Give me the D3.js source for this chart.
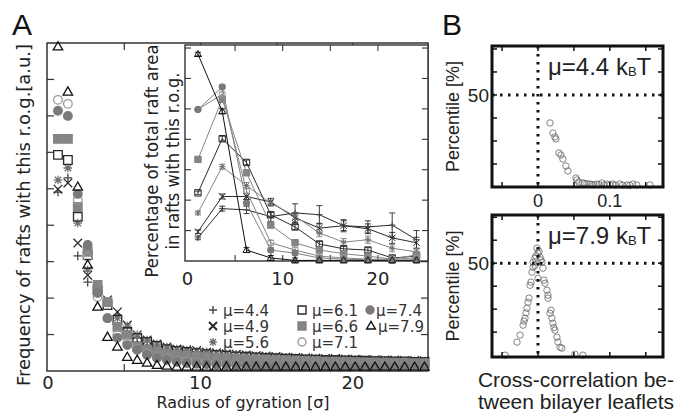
<!DOCTYPE html>
<html>
<head>
<meta charset="utf-8">
<script src="https://cdn.jsdelivr.net/npm/d3@7"></script>
<style>
  body { margin: 0; background: #fff; }
  svg { display: block; }
  .dv { font-family: "DejaVu Sans", sans-serif; }
  .ar { font-family: "Liberation Sans", Arial, sans-serif; }
</style>
</head>
<body>
<div id="chart"></div>
<script>
// Raft size distributions (panel A) and leaflet cross-correlation (panel B)

const WIDTH = 680;
const HEIGHT = 413;

// --- data ---
const series = ['4.4', '4.9', '5.6', '6.1', '6.6', '7.1', '7.4', '7.9'];
const markers = ['plus', 'cross', 'star', 'square', 'squareFill', 'circle', 'circleFill', 'triangle'];

// main plot: radius of gyration bins (38 bins)
const rogBins = [0.65, 1.3, 1.95, 2.6, 3.25, 3.9, 4.55, 5.2, 5.85, 6.5, 7.15, 7.8, 8.45,
  9.1, 9.75, 10.4, 11.05, 11.7, 12.35, 13.0, 13.65, 14.3, 14.95, 15.6, 16.25, 16.9, 17.55,
  18.2, 18.85, 19.5, 20.15, 20.8, 21.45, 22.1, 22.75, 23.4, 24.05, 24.7];

const freq44 = [0.491, 0.530, 0.316, 0.244, 0.217, 0.187, 0.154, 0.118, 0.091, 0.071, 0.063, 0.058, 0.052,
  0.050, 0.048, 0.052, 0.046, 0.044, 0.045, 0.041, 0.040, 0.038, 0.037, 0.036, 0.035, 0.034, 0.033,
  0.032, 0.031, 0.031, 0.030, 0.029, 0.028, 0.028, 0.027, 0.026, 0.026, 0.025];
const freq49 = [0.499, 0.516, 0.351, 0.263, 0.231, 0.195, 0.162, 0.126, 0.099, 0.085, 0.074, 0.066, 0.060,
  0.058, 0.056, 0.052, 0.050, 0.047, 0.046, 0.044, 0.042, 0.041, 0.040, 0.038, 0.037, 0.036, 0.035,
  0.034, 0.034, 0.033, 0.032, 0.031, 0.031, 0.030, 0.030, 0.029, 0.029, 0.028];
const freq56 = [0.524, 0.557, 0.406, 0.277, 0.214, 0.189, 0.145, 0.123, 0.099, 0.085, 0.074, 0.066, 0.060,
  0.057, 0.054, 0.051, 0.048, 0.046, 0.044, 0.043, 0.041, 0.040, 0.038, 0.037, 0.036, 0.035, 0.034,
  0.033, 0.032, 0.032, 0.031, 0.030, 0.030, 0.029, 0.029, 0.028, 0.028, 0.027];
const freq61 = [0.593, 0.579, 0.423, 0.318, 0.222, 0.181, 0.140, 0.107, 0.091, 0.080, 0.069, 0.060, 0.055,
  0.052, 0.049, 0.046, 0.044, 0.042, 0.040, 0.039, 0.037, 0.036, 0.035, 0.034, 0.033, 0.032, 0.031,
  0.030, 0.030, 0.029, 0.028, 0.028, 0.027, 0.027, 0.026, 0.026, 0.025, 0.025];
const freq66 = [0.637, 0.637, 0.450, 0.327, 0.236, 0.189, 0.121, 0.099, 0.066, 0.058, 0.052, 0.047, 0.044,
  0.042, 0.040, 0.038, 0.036, 0.035, 0.033, 0.032, 0.031, 0.030, 0.029, 0.028, 0.027, 0.026, 0.026,
  0.025, 0.025, 0.024, 0.024, 0.023, 0.023, 0.022, 0.022, 0.022, 0.021, 0.021];
const freq71 = [0.744, 0.733, 0.469, 0.313, 0.203, 0.145, 0.099, 0.077, 0.060, 0.047, 0.038, 0.033, 0.027,
  0.024, 0.022, 0.020, 0.019, 0.018, 0.017, 0.016, 0.015, 0.015, 0.014, 0.014, 0.014, 0.013, 0.013,
  0.013, 0.013, 0.013, 0.013, 0.013, 0.013, 0.013, 0.013, 0.013, 0.013, 0.013];
const freq74 = [0.714, 0.700, 0.486, 0.346, 0.214, 0.145, 0.091, 0.071, 0.058, 0.044, 0.036, 0.030, 0.025,
  0.022, 0.020, 0.019, 0.018, 0.017, 0.016, 0.015, 0.015, 0.014, 0.014, 0.013, 0.013, 0.013, 0.012,
  0.012, 0.012, 0.012, 0.012, 0.012, 0.012, 0.012, 0.012, 0.012, 0.012, 0.012];
const freq79 = [0.89, 0.766, 0.505, 0.291, 0.176, 0.093, 0.066, 0.038, 0.030, 0.022, 0.016, 0.014, 0.011,
  0.011, 0.011, 0.011, 0.011, 0.011, 0.011, 0.011, 0.011, 0.011, 0.011, 0.011, 0.011, 0.011, 0.011,
  0.011, 0.011, 0.011, 0.011, 0.011, 0.011, 0.011, 0.011, 0.011, 0.011, 0.011];

// inset: percentage of total raft area
const insetBins = [1.1, 3.65, 6.2, 8.75, 11.3, 13.85, 16.4, 18.95, 21.5, 24.05];
const area44 = [3.8, 8.6, 8.4, 7.3, 7.9, 7.6, 5.8, 5.6, 5.9, 3.5];
const area49 = [4.8, 10.6, 10.6, 9.7, 7.1, 5.4, 5.8, 5.3, 3.8, 3.0];
const area56 = [7.9, 15.5, 12.4, 9.5, 7.4, 4.6, 3.1, 3.5, 2.1, 1.5];
const area61 = [11.2, 20.1, 16.2, 7.6, 5.6, 2.8, 2.0, 1.8, 0.5, 0.8];
const area66 = [16.7, 26.6, 14.5, 5.9, 3.0, 1.8, 1.2, 0.8, 0.3, 1.0];
const area71 = [24.9, 27.4, 11.5, 3.0, 1.8, 0.8, 0.5, 0.3, 0.3, 0.5];
const area74 = [24.9, 28.6, 9.5, 1.8, 1.3, 0.5, 0.3, 0.2, 0.1, 0.2];
const area79 = [34.0, 24.6, 1.8, 0.5, 0.1, 0.1, 0.1, 0.1, 0.1, 0.1];
const err44 = [0.3, 0.4, 0.6, 0.8, 1.5, 1.5, 1.0, 1.0, 2.0, 1.5];
const err49 = [0.3, 0.4, 0.5, 0.6, 0.8, 0.8, 0.8, 0.8, 0.9, 0.9];
const err56 = [0.3, 0.4, 0.5, 0.5, 0.6, 0.6, 0.6, 0.6, 0.6, 0.6];
const errSmall = [0.3, 0.4, 0.4, 0.4, 0.4, 0.4, 0.4, 0.4, 0.4, 0.4];

// panel B: cross-correlation vs percentile
const ccTop = [0.0167, 0.0208, 0.0236, 0.025, 0.0292, 0.0319, 0.0347, 0.0389, 0.0417, 0.0528, 0.0542, 0.0569,
  0.0625, 0.065, 0.068, 0.072, 0.075, 0.078, 0.082, 0.085, 0.089, 0.092, 0.096, 0.100, 0.104, 0.108, 0.114,
  0.118, 0.124, 0.128, 0.132, 0.1375, 0.156];
const pctTop = [34.8, 29.3, 27.2, 26.1, 18.5, 17.4, 15.2, 11.4, 8.7, 4.9, 3.8, 2.7,
  2.2, 1.9, 1.8, 1.6, 1.4, 1.2, 1.6, 1.3, 2.2, 1.1, 1.6, 1.2, 1.6, 1.0, 1.6,
  1.0, 1.1, 0.9, 1.6, 1.1, 1.1];
const ccBot = [-0.0014, 0.0, 0.0028, -0.0042, -0.0069, 0.0056, -0.0042, 0.0069, -0.0069, -0.0083, 0.0, 0.0083,
  0.0097, -0.0097, -0.0111, 0.0125, 0.0139, 0.0139, -0.0125, -0.0139, -0.0153, 0.0167, 0.0194, -0.0181,
  -0.0208, 0.0208, 0.0236, -0.025, 0.0264, 0.0278, -0.0292, 0.0306, 0.0333, -0.0458, 0.0514, 0.0625,
  0.0014, 0.0042, -0.0028, 0.0181, -0.0167, 0.0222, -0.0194];
const pctBot = [58.2, 55.4, 53.3, 52.7, 50.5, 50.5, 48.9, 47.3, 47.8, 45.1, 41.8, 40.8,
  39.1, 39.7, 38.0, 35.3, 32.6, 31.0, 31.0, 28.8, 25.5, 22.8, 20.1, 20.1,
  16.3, 17.4, 13.6, 10.9, 9.8, 7.1, 7.1, 4.3, 3.8, 0.0, 0.5, 0.0,
  56.5, 51.8, 54.0, 24.5, 23.0, 15.0, 18.5];

const freqBySeries = [freq44, freq49, freq56, freq61, freq66, freq71, freq74, freq79];
const areaBySeries = [area44, area49, area56, area61, area66, area71, area74, area79];
const errBySeries = [err44, err49, err56, errSmall, errSmall, errSmall, errSmall, errSmall];

// --- styles ---
const DARK = '#2a2a2a';
const GRAY = '#858585';
const markerStyle = {
  plus: {stroke: '#444', fill: 'none'},
  cross: {stroke: DARK, fill: 'none'},
  star: {stroke: '#6f6f6f', fill: 'none'},
  square: {stroke: DARK, fill: 'none'},
  squareFill: {stroke: GRAY, fill: GRAY},
  circle: {stroke: '#999', fill: 'none'},
  circleFill: {stroke: '#7a7a7a', fill: '#7a7a7a'},
  triangle: {stroke: '#111', fill: 'none'}
};
const lineColor = [DARK, DARK, GRAY, DARK, GRAY, GRAY, GRAY, '#111'];

function markerPath(type, h) {
  if (type === 'plus') return `M${-h},0H${h}M0,${-h}V${h}`;
  if (type === 'cross') return `M${-h},${-h}L${h},${h}M${-h},${h}L${h},${-h}`;
  if (type === 'star') {
    const k = h * 0.75;
    return `M${-h},0H${h}M0,${-h}V${h}M${-k},${-k}L${k},${k}M${-k},${k}L${k},${-k}`;
  }
  if (type === 'square' || type === 'squareFill') return `M${-h},${-h}H${h}V${h}H${-h}Z`;
  if (type === 'circle' || type === 'circleFill') return d3.symbol(d3.symbolCircle, Math.PI * h * h)();
  return `M0,${-h * 1.15}L${h * 1.1},${h * 0.75}L${-h * 1.1},${h * 0.75}Z`;
}

function drawMarker(g, type, x, y, h, sw) {
  const st = markerStyle[type];
  g.append('path')
    .attr('d', markerPath(type, h))
    .attr('transform', `translate(${x},${y})`)
    .attr('fill', st.fill)
    .attr('stroke', st.stroke)
    .attr('stroke-width', sw);
}

const svg = d3.select('#chart').append('svg')
  .attr('width', WIDTH)
  .attr('height', HEIGHT);

// ================= Panel A: main plot =================
const xMain = d3.scaleLinear().domain([-0.07, 25.85]).range([47, 442]);
const yMain = d3.scaleLinear().domain([0, 0.9]).range([371, 43]);

svg.append('rect')
  .attr('x', 47).attr('y', 43).attr('width', 381).attr('height', 328)
  .attr('fill', 'none').attr('stroke', '#333').attr('stroke-width', 1.5);

const mainTicks = svg.append('g').attr('stroke', '#333').attr('stroke-width', 1.2);
[5, 10, 15, 20].forEach(t => {
  mainTicks.append('line').attr('x1', xMain(t)).attr('x2', xMain(t)).attr('y1', 371).attr('y2', 364);
  mainTicks.append('line').attr('x1', xMain(t)).attr('x2', xMain(t)).attr('y1', 43).attr('y2', 50);
});
d3.range(1, 9).forEach(k => {
  const t = k / 10;
  mainTicks.append('line').attr('x1', 47).attr('x2', 54).attr('y1', yMain(t)).attr('y2', yMain(t));
  mainTicks.append('line').attr('x1', 428).attr('x2', 421).attr('y1', yMain(t)).attr('y2', yMain(t));
});

svg.append('g').attr('class', 'dv').selectAll('text')
  .data([0, 10, 20]).join('text')
  .attr('x', d => xMain(d)).attr('y', 389)
  .attr('text-anchor', 'middle').attr('font-size', 18).attr('fill', '#222')
  .text(d => d);

svg.append('text').attr('class', 'dv')
  .attr('x', 243).attr('y', 408)
  .attr('text-anchor', 'middle').attr('font-size', 16).attr('fill', '#222')
  .attr('textLength', 173).attr('lengthAdjust', 'spacingAndGlyphs')
  .text('Radius of gyration [σ]');

svg.append('text').attr('class', 'dv')
  .attr('transform', 'translate(30,215) rotate(-90)')
  .attr('text-anchor', 'middle').attr('font-size', 18).attr('fill', '#222')
  .attr('textLength', 342).attr('lengthAdjust', 'spacingAndGlyphs')
  .text('Frequency of rafts with this r.o.g.[a.u.]');

// points
const mainPts = svg.append('g');
series.forEach((s, i) => {
  freqBySeries[i].forEach((v, j) => {
    drawMarker(mainPts, markers[i], xMain(rogBins[j]), yMain(v), 4.3, 1.3);
  });
});

// legend
const legend = svg.append('g').attr('class', 'dv').attr('font-size', 15).attr('fill', '#333');
const legPos = [
  [213, 223, 310], [213, 223, 326], [213, 223, 342],
  [302, 312, 310], [302, 312, 326], [302, 312, 342],
  [370, 376, 310], [371, 378, 326]
];
series.forEach((s, i) => {
  const [mx, tx, ty] = legPos[i];
  drawMarker(legend, markers[i], mx, ty, 4, i === 1 ? 2 : 1.4);
  legend.append('text').attr('x', tx).attr('y', ty + 6).text('μ=' + s);
});

// ================= Inset =================
const xIn = d3.scaleLinear().domain([-0.26, 25.26]).range([185, 428]);
const yIn = d3.scaleLinear().domain([0, 35.5]).range([261, 45]);

svg.append('rect')
  .attr('x', 185).attr('y', 45).attr('width', 243).attr('height', 216)
  .attr('fill', '#fff').attr('stroke', '#333').attr('stroke-width', 1.4);

const inTicks = svg.append('g').attr('stroke', '#333').attr('stroke-width', 1.1);
[5, 10, 15, 20].forEach(t => {
  inTicks.append('line').attr('x1', xIn(t)).attr('x2', xIn(t)).attr('y1', 261).attr('y2', 255);
  inTicks.append('line').attr('x1', xIn(t)).attr('x2', xIn(t)).attr('y1', 45).attr('y2', 51);
});
[5, 10, 15, 20, 25, 30, 35].forEach(t => {
  inTicks.append('line').attr('x1', 185).attr('x2', 191).attr('y1', yIn(t)).attr('y2', yIn(t));
  inTicks.append('line').attr('x1', 428).attr('x2', 422).attr('y1', yIn(t)).attr('y2', yIn(t));
});

svg.append('g').attr('class', 'dv').selectAll('text')
  .data([0, 10, 20]).join('text')
  .attr('x', d => xIn(d)).attr('y', 285)
  .attr('text-anchor', 'middle').attr('font-size', 18).attr('fill', '#222')
  .text(d => d);

const inLabel = svg.append('g').attr('class', 'dv').attr('font-size', 17).attr('fill', '#222');
inLabel.append('text')
  .attr('transform', 'translate(158,161) rotate(-90)')
  .attr('text-anchor', 'middle')
  .attr('textLength', 233).attr('lengthAdjust', 'spacingAndGlyphs')
  .text('Percentage of total raft area');
inLabel.append('text')
  .attr('transform', 'translate(179,161) rotate(-90)')
  .attr('text-anchor', 'middle')
  .attr('textLength', 177).attr('lengthAdjust', 'spacingAndGlyphs')
  .text('in rafts with this r.o.g.');

const inLine = d3.line().x((d, j) => xIn(insetBins[j])).y(d => yIn(d));
const inG = svg.append('g');
series.forEach((s, i) => {
  inG.append('path')
    .attr('d', inLine(areaBySeries[i]))
    .attr('fill', 'none').attr('stroke', lineColor[i]).attr('stroke-width', 1);
});
series.forEach((s, i) => {
  areaBySeries[i].forEach((v, j) => {
    const e = errBySeries[i][j];
    const x = xIn(insetBins[j]);
    inG.append('path')
      .attr('d', `M${x},${yIn(v - e)}V${yIn(v + e)}M${x - 3},${yIn(v - e)}H${x + 3}M${x - 3},${yIn(v + e)}H${x + 3}`)
      .attr('stroke', lineColor[i]).attr('stroke-width', 0.9).attr('fill', 'none');
  });
});
series.forEach((s, i) => {
  areaBySeries[i].forEach((v, j) => {
    drawMarker(inG, markers[i], xIn(insetBins[j]), yIn(v), 3.2, 1);
  });
});

svg.append('text').attr('class', 'ar')
  .attr('x', 12).attr('y', 35).attr('font-size', 30).attr('fill', '#111')
  .text('A');

// ================= Panel B =================
svg.append('text').attr('class', 'ar')
  .attr('x', 442).attr('y', 35).attr('font-size', 30).attr('fill', '#111')
  .text('B');

const xB = d3.scaleLinear().domain([-0.064, 0.174]).range([492, 663]);

function drawBPanel(top, bottom, yDomain, ccArr, pctArr, muText, muBaseline) {
  const yB = d3.scaleLinear().domain(yDomain).range([bottom, top]);
  const g = svg.append('g');

  g.append('g').attr('stroke', '#666').attr('stroke-width', 0.8).attr('fill', 'none')
    .selectAll('circle').data(ccArr).join('circle')
    .attr('cx', d => xB(d)).attr('cy', (d, j) => yB(pctArr[j])).attr('r', 3.2);

  // dotted reference lines
  g.append('line').attr('x1', 492).attr('x2', 663).attr('y1', yB(50)).attr('y2', yB(50))
    .attr('stroke', '#111').attr('stroke-width', 3).attr('stroke-dasharray', '2.5,5.5');
  g.append('line').attr('x1', xB(0)).attr('x2', xB(0)).attr('y1', top).attr('y2', bottom)
    .attr('stroke', '#111').attr('stroke-width', 3).attr('stroke-dasharray', '2.5,5.5');

  const tk = g.append('g').attr('stroke', '#111').attr('stroke-width', 1.5);
  [-0.05, 0, 0.05, 0.1, 0.15].forEach(t => {
    tk.append('line').attr('x1', xB(t)).attr('x2', xB(t)).attr('y1', top).attr('y2', top + 5);
    tk.append('line').attr('x1', xB(t)).attr('x2', xB(t)).attr('y1', bottom).attr('y2', bottom - 5);
  });
  [12.5, 25, 37.5, 50, 62.5, 75].forEach(t => {
    if (yB(t) < top + 2) return;
    tk.append('line').attr('x1', 492).attr('x2', 497).attr('y1', yB(t)).attr('y2', yB(t));
    tk.append('line').attr('x1', 663).attr('x2', 658).attr('y1', yB(t)).attr('y2', yB(t));
  });

  g.append('rect')
    .attr('x', 492).attr('y', top).attr('width', 171).attr('height', bottom - top)
    .attr('fill', 'none').attr('stroke', '#111').attr('stroke-width', 3);

  const mu = g.append('text').attr('class', 'ar')
    .attr('x', 548).attr('y', muBaseline).attr('font-size', 24).attr('fill', '#222');
  mu.append('tspan').text(muText + ' k');
  mu.append('tspan').attr('font-size', 13).attr('dy', 1).text('B');
  mu.append('tspan').attr('dy', -1).text('T');

  g.append('text').attr('class', 'ar')
    .attr('x', 489).attr('y', yB(50) + 7).attr('text-anchor', 'end')
    .attr('font-size', 19).attr('fill', '#222').text('50');

  g.append('text').attr('class', 'ar')
    .attr('transform', `translate(459,${(top + bottom) / 2}) rotate(-90)`)
    .attr('text-anchor', 'middle').attr('font-size', 18).attr('fill', '#222')
    .text('Percentile [%]');
}

drawBPanel(46, 187, [0, 76.6], ccTop, pctTop, 'μ=4.4', 75);
drawBPanel(215, 357, [-1, 76.2], ccBot, pctBot, 'μ=7.9', 244);

svg.append('g').attr('class', 'ar').selectAll('text')
  .data([0, 0.1]).join('text')
  .attr('x', d => xB(d)).attr('y', 207)
  .attr('text-anchor', 'middle').attr('font-size', 18).attr('fill', '#222')
  .text(d => d);

const caption = svg.append('g').attr('class', 'ar')
  .attr('font-size', 21).attr('fill', '#222').attr('text-anchor', 'middle');
caption.append('text').attr('x', 576).attr('y', 387).text('Cross-correlation be-');
caption.append('text').attr('x', 576).attr('y', 409).text('tween bilayer leaflets');
</script>
</body>
</html>
